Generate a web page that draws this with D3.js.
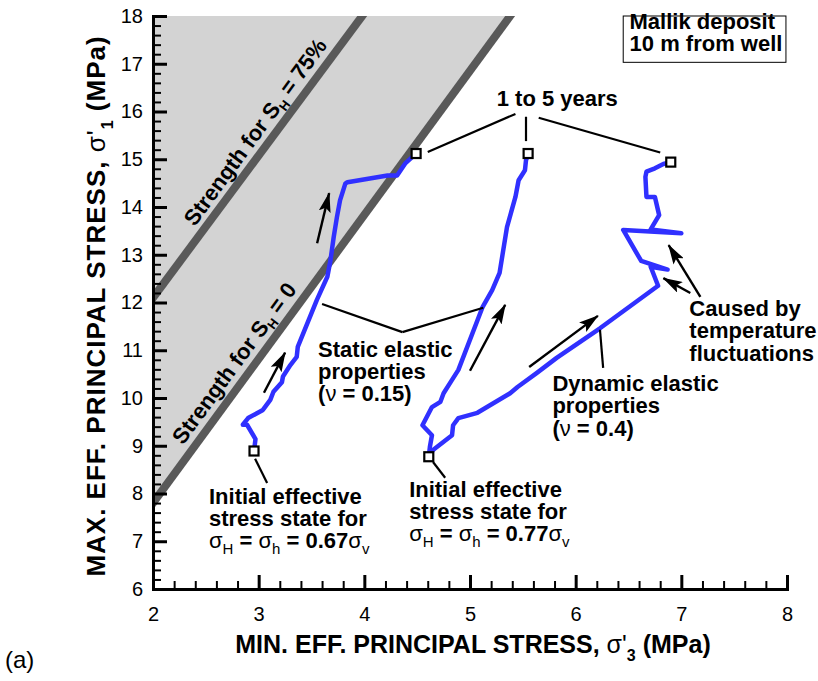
<!DOCTYPE html>
<html>
<head>
<meta charset="utf-8">
<script src="https://cdn.jsdelivr.net/npm/d3@7"></script>
<style>
body { margin: 0; background: #fff; }
svg { display: block; }
text { font-family: "Liberation Sans", Arial, sans-serif; }
</style>
</head>
<body>
<div id="chart"></div>
<script>
// stress paths near the well, panel (a)

var xTicks = [2, 3, 4, 5, 6, 7, 8];
var yTicks = [6, 7, 8, 9, 10, 11, 12, 13, 14, 15, 16, 17, 18];

// strength envelopes (sigma'3, sigma'1)
var strengthSH0 = [[2, 7.8], [5.38, 18]];
var strengthSH75 = [[2, 12.1], [3.98, 18]];

// static elastic, start 0.67 sigma_v
var static067 = [[2.956, 8.89], [2.97, 9.14], [2.89, 9.44], [2.85, 9.44], [2.90, 9.58], [3.04, 9.75],
	[3.11, 9.96], [3.14, 10.13], [3.22, 10.33], [3.23, 10.45], [3.30, 10.69], [3.36, 10.86],
	[3.37, 11.07], [3.55, 12.05], [3.65, 12.54], [3.68, 12.89], [3.71, 13.37], [3.74, 13.78],
	[3.77, 14.14], [3.82, 14.49], [3.84, 14.52], [4.22, 14.66], [4.31, 14.66], [4.39, 14.92],
	[4.45, 15.04], [4.49, 15.1]];

// static elastic, start 0.77 sigma_v
var static077 = [[4.61, 8.77], [4.62, 8.97], [4.64, 9.22], [4.55, 9.43], [4.64, 9.81], [4.72, 9.92],
	[4.75, 10.1], [4.83, 10.38], [4.89, 10.59], [5.12, 11.91], [5.21, 12.26], [5.28, 12.62],
	[5.35, 13.58], [5.43, 14.21], [5.46, 14.56], [5.52, 14.77], [5.53, 14.98], [5.55, 15.1]];

// dynamic elastic, start 0.77 sigma_v
var dynamic04 = [[4.61, 8.77], [4.65, 8.91], [4.83, 9.22], [4.84, 9.43], [4.89, 9.58], [5.07, 9.69],
	[5.38, 10.1], [5.45, 10.23], [5.63, 10.52], [5.82, 10.84], [6.23, 11.46], [6.78, 12.35],
	[6.71, 12.75], [6.87, 12.69], [6.62, 12.87], [6.45, 13.52], [7.0, 13.45], [6.71, 13.53],
	[6.79, 13.83], [6.75, 14.21], [6.67, 14.21], [6.66, 14.63], [6.67, 14.74], [6.75, 14.81],
	[6.83, 14.9], [6.9, 14.94]];

var startPoints = [[2.956, 8.89], [4.61, 8.77]];
var endPoints = [[4.49, 15.12], [5.55, 15.12], [6.9, 14.94]];

// loading direction arrows [from, to]
var pathArrows = [
	[[3.553, 13.24], [3.667, 14.29]],
	[[3.05, 10.11], [3.25, 10.95]],
	[[5.0, 10.57], [5.333, 11.95]],
	[[5.56, 10.65], [6.21, 11.72]],
	[[7.18, 12.12], [6.88, 13.2]],
	[[7.085, 12.2], [6.83, 12.51]]
];

// leader lines for the call-outs
var leaders = [
	[[5.43, 15.95], [4.60, 15.15]],
	[[5.53, 15.89], [5.53, 15.38]],
	[[5.65, 15.87], [6.80, 15.14]],
	[[4.36, 11.38], [3.60, 11.97]],
	[[4.36, 11.38], [5.125, 11.89]],
	[[2.966, 8.73], [3.08, 8.22]],
	[[4.65, 8.66], [4.765, 8.33]],
	[[6.26, 10.63], [6.23, 11.43]]
];

var chart_fmt = {
	width: 818,
	height: 681,
	left: 153,
	right: 787,
	top: 16,
	bottom: 589,
	clr_fill: '#d3d3d3',
	clr_env: '#595959',
	clr_path: '#3030ff'
};

var svg = d3.select('#chart').append('svg')
	.attr('width', chart_fmt.width)
	.attr('height', chart_fmt.height);

var xScale = d3.scaleLinear().domain([2, 8]).range([chart_fmt.left, chart_fmt.right]);
var yScale = d3.scaleLinear().domain([6, 18]).range([chart_fmt.bottom, chart_fmt.top]);

svg.append('defs').append('clipPath').attr('id', 'plotclip')
	.append('rect')
	.attr('x', chart_fmt.left).attr('y', chart_fmt.top)
	.attr('width', chart_fmt.right - chart_fmt.left)
	.attr('height', chart_fmt.bottom - chart_fmt.top);

svg.select('defs').append('marker')
	.attr('id', 'head')
	.attr('markerUnits', 'userSpaceOnUse')
	.attr('viewBox', '0 0 20 12')
	.attr('refX', 19).attr('refY', 6)
	.attr('markerWidth', 20).attr('markerHeight', 12)
	.attr('orient', 'auto')
	.append('path').attr('d', 'M0,0 L20,6 L0,12 L4,6 Z').attr('fill', '#000');

var line = d3.line()
	.x(function(d) { return xScale(d[0]); })
	.y(function(d) { return yScale(d[1]); });

// shaded failure region and envelopes
var plot = svg.append('g').attr('clip-path', 'url(#plotclip)');
plot.append('path')
	.datum([strengthSH0[0], strengthSH0[1], [2, 18]])
	.attr('d', function(d) { return line(d) + 'Z'; })
	.attr('fill', chart_fmt.clr_fill);
[strengthSH0, strengthSH75].forEach(function(env) {
	var a = env[0], b = env[1];
	var k = (b[1] - a[1]) / (b[0] - a[0]);
	// stretch a bit past the frame, the clip trims it
	var ext = [[a[0] - 0.1, a[1] - 0.1 * k], [b[0] + 0.1, b[1] + 0.1 * k]];
	plot.append('path').datum(ext).attr('d', line)
		.attr('stroke', chart_fmt.clr_env).attr('stroke-width', 8).attr('fill', 'none');
});

// envelope labels, turned along the lines
var envAngle = -Math.atan2(yScale(strengthSH0[0][1]) - yScale(strengthSH0[1][1]),
	xScale(strengthSH0[1][0]) - xScale(strengthSH0[0][0])) * 180 / Math.PI;
function envLabel(cx, cy, tail) {
	var t = svg.append('text')
		.attr('transform', 'translate(' + xScale(cx) + ',' + yScale(cy) + ') rotate(' + envAngle + ')')
		.attr('text-anchor', 'middle')
		.attr('dy', '0.35em')
		.attr('font-size', 22).attr('font-weight', 'bold');
	t.append('tspan').text('Strength for S');
	t.append('tspan').attr('font-size', 13).attr('dy', 5).text('H');
	t.append('tspan').attr('dy', -5).text(' = ' + tail);
}
envLabel(2.966, 15.57, '75%');
envLabel(2.767, 10.73, '0');

// axes
var xMinor = d3.range(2, 8.001, 0.2).filter(function(v) { return Math.abs(v - Math.round(v)) > 0.01; });
var yMinor = d3.range(6, 18.001, 0.2).filter(function(v) { return Math.abs(v - Math.round(v)) > 0.01; });

var gx = svg.append('g').attr('transform', 'translate(0,' + chart_fmt.bottom + ')');
gx.append('g').call(d3.axisBottom(xScale).tickValues(xMinor).tickSize(-8).tickFormat(''))
	.call(function(g) { g.select('.domain').remove(); });
gx.append('g').attr('class', 'major')
	.call(d3.axisBottom(xScale).tickValues(xTicks).tickFormat(d3.format('d'))
		.tickSizeInner(-14).tickSizeOuter(0).tickPadding(18));

var gy = svg.append('g').attr('transform', 'translate(' + chart_fmt.left + ',0)');
gy.append('g').call(d3.axisLeft(yScale).tickValues(yMinor).tickSize(-8).tickFormat(''))
	.call(function(g) { g.select('.domain').remove(); });
gy.append('g').attr('class', 'major')
	.call(d3.axisLeft(yScale).tickValues(yTicks).tickFormat(d3.format('d'))
		.tickSizeInner(-14).tickSizeOuter(0).tickPadding(10));

svg.selectAll('.tick line').attr('stroke', '#000').attr('stroke-width', 2);
svg.selectAll('.major .tick line').attr('stroke-width', 3);
svg.selectAll('.domain').attr('stroke', '#000').attr('stroke-width', 3).attr('stroke-linecap', 'square');
svg.selectAll('.tick text')
	.attr('font-family', '"Liberation Sans", Arial, sans-serif')
	.attr('font-size', 20).attr('fill', '#000');

// axis titles
var xt = svg.append('text')
	.attr('x', 473).attr('y', 653)
	.attr('text-anchor', 'middle').attr('font-size', 25).attr('font-weight', 'bold');
xt.append('tspan').text('MIN. EFF. PRINCIPAL STRESS, ');
xt.append('tspan').attr('font-weight', 'normal').text('σ\'');
xt.append('tspan').attr('font-size', 16).attr('dy', 8).text('3');
xt.append('tspan').attr('dy', -8).text(' (MPa)');

var yt = svg.append('text')
	.attr('transform', 'translate(105,306) rotate(-90)')
	.attr('text-anchor', 'middle').attr('font-size', 26).attr('font-weight', 'bold')
	.attr('letter-spacing', 1);
yt.append('tspan').text('MAX. EFF. PRINCIPAL STRESS, ');
yt.append('tspan').attr('font-weight', 'normal').text('σ\'');
yt.append('tspan').attr('font-size', 16).attr('dy', 8).text('1');
yt.append('tspan').attr('dy', -8).text(' (MPa)');

svg.append('text').attr('x', 5).attr('y', 668)
	.attr('font-family', '"Liberation Serif", "Times New Roman", serif')
	.attr('font-size', 24).text('(a)');

// stress paths
[static067, static077, dynamic04].forEach(function(p) {
	svg.append('path').datum(p).attr('d', line)
		.attr('fill', 'none').attr('stroke', chart_fmt.clr_path)
		.attr('stroke-width', 4.5).attr('stroke-linejoin', 'round');
});

// leaders and arrows
leaders.forEach(function(l) {
	svg.append('path').datum(l).attr('d', line)
		.attr('stroke', '#000').attr('stroke-width', 2.2).attr('fill', 'none');
});
pathArrows.forEach(function(a) {
	svg.append('path').datum(a).attr('d', line)
		.attr('stroke', '#000').attr('stroke-width', 2.4).attr('fill', 'none')
		.attr('marker-end', 'url(#head)');
});

// start and end markers
svg.selectAll('rect.pt').data(startPoints.concat(endPoints)).enter()
	.append('rect').attr('class', 'pt')
	.attr('x', function(d) { return xScale(d[0]) - 4.5; })
	.attr('y', function(d) { return yScale(d[1]) - 4.5; })
	.attr('width', 9).attr('height', 9)
	.attr('fill', '#fff').attr('stroke', '#000').attr('stroke-width', 2.2);

// call-out text, one <text> per line; a line is a list of [text, style] parts
function callout(x0, y0, lines, step, anchor) {
	lines.forEach(function(parts, i) {
		var t = svg.append('text')
			.attr('x', xScale(x0)).attr('y', yScale(y0) + i * step)
			.attr('text-anchor', anchor || 'start')
			.attr('font-size', 22).attr('font-weight', 'bold');
		parts.forEach(function(p) {
			var s = t.append('tspan');
			if (p[1] === 'g') s.attr('font-weight', 'normal');
			if (p[1] === 'sub') s.attr('font-weight', 'normal').attr('font-size', 15).attr('dy', 6);
			if (p[1] === 'up') s.attr('dy', -6);
			s.text(p[0]);
		});
	});
}

callout(5.826, 16.11, [[['1 to 5 years']]], 0, 'middle');

svg.append('rect')
	.attr('x', xScale(6.45)).attr('y', yScale(18.0))
	.attr('width', xScale(7.99) - xScale(6.45)).attr('height', yScale(17.03) - yScale(18.0))
	.attr('fill', '#fff').attr('stroke', '#000').attr('stroke-width', 1);
callout(6.51, 17.73, [[['Mallik deposit']], [['10 m from well']]], 22);

callout(3.5625, 10.86, [[['Static elastic']], [['properties']], [['('], ['ν', 'g'], [' = 0.15)']]], 22);

callout(2.53, 7.785, [[['Initial effective']], [['stress state for']],
	[['σ', 'g'], ['H', 'sub'], [' = ', 'up'], ['σ', 'g'], ['h', 'sub'], [' = 0.67', 'up'], ['σ', 'g'], ['v', 'sub']]], 22);

callout(4.424, 7.93, [[['Initial effective']], [['stress state for']],
	[['σ', 'g'], ['H', 'sub'], [' = ', 'up'], ['σ', 'g'], ['h', 'sub'], [' = 0.77', 'up'], ['σ', 'g'], ['v', 'sub']]], 22);

callout(5.78, 10.15, [[['Dynamic elastic']], [['properties']], [['('], ['ν', 'g'], [' = 0.4)']]], 22.5);

callout(7.076, 11.72, [[['Caused by']], [['temperature']], [['fluctuations']]], 22.5);
</script>
</body>
</html>
